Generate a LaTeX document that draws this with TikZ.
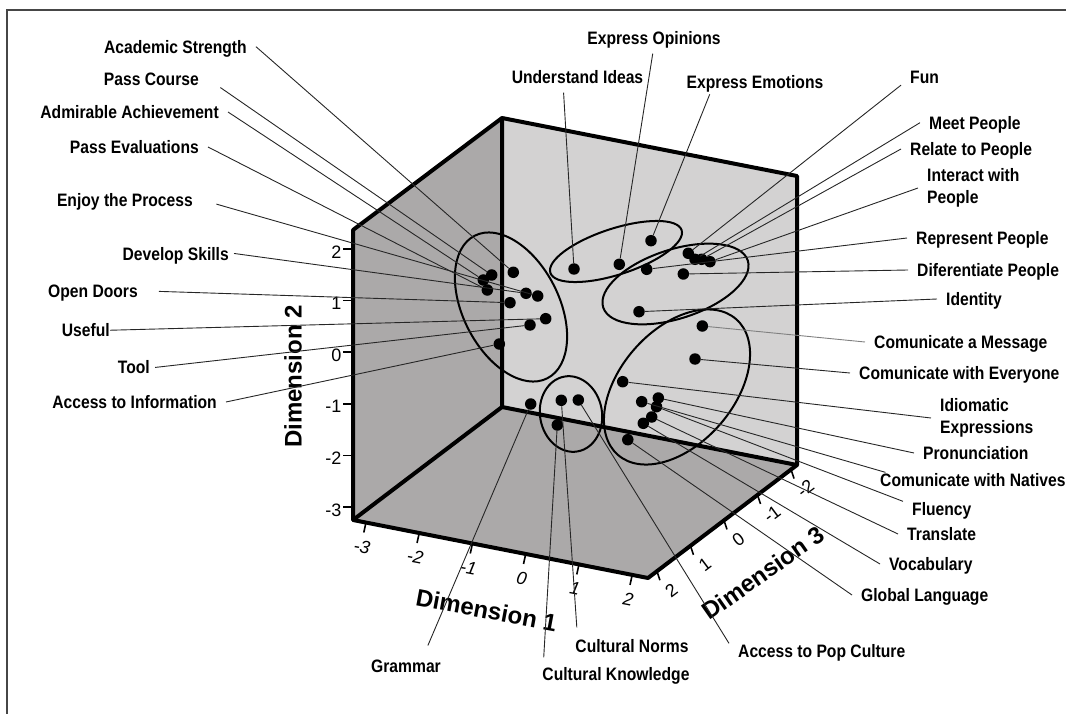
\documentclass[tikz,border=0pt]{standalone}
\usepackage{fontspec}
\setmainfont{Liberation Sans}
\newfontfamily\lblfont{Liberation Sans}[FakeStretch=0.87]
\usetikzlibrary{calc}
\definecolor{sidegray}{RGB}{171,169,169}
\definecolor{backgray}{RGB}{211,210,210}
\definecolor{framegray}{RGB}{70,70,70}

\begin{document}
\begin{tikzpicture}[x=1pt, y=-1pt,
  tag/.style      = {font=\lblfont\bfseries\fontsize{18}{22}\selectfont,
                     inner xsep=9pt, inner ysep=1pt,
                     text height=12.9pt, text depth=0pt},
  tagtwo/.style   = {font=\lblfont\bfseries\fontsize{18}{22}\selectfont,
                     inner xsep=9pt, inner ysep=1pt, align=left},
  dotnode/.style  = {circle, fill=black, inner sep=0pt, minimum size=11.5pt},
  groupring/.style= {line width=2pt},
  leader/.style   = {line width=0.9pt, black!85},
  cubeline/.style = {line width=4pt, line join=bevel},
  tickmark/.style = {line width=1.6pt},
  tnum/.style     = {font=\fontsize{18}{18}\selectfont, inner sep=0pt},
  tnumit/.style   = {font=\itshape\fontsize{18}{18}\selectfont, inner sep=0pt},
  dimtag/.style   = {font=\bfseries\fontsize{24}{24}\selectfont, inner sep=0pt}
]
\useasboundingbox (0,0) rectangle (1066,714);

%% ─── Frame ──────────────────────────────────────────────────────
\draw[framegray, line width=1.5pt] (7,714) -- (7,10) -- (1066,10);

%% ─── Cube: walls and floor ──────────────────────────────────────
\coordinate (A) at (353,230);
\coordinate (B) at (502,118);
\coordinate (C) at (797,176);
\coordinate (D) at (797,465);
\coordinate (E) at (502,407);
\coordinate (F) at (353,520);
\coordinate (G) at (648,578);

\fill[sidegray] (F) -- (A) -- (B) -- (E) -- cycle;
\fill[sidegray] (F) -- (E) -- (D) -- (G) -- cycle;
\fill[backgray] (E) -- (B) -- (C) -- (D) -- cycle;
\draw[cubeline] (F) -- (A) -- (B) -- (C) -- (D) -- (G) -- cycle;
\draw[cubeline] (B) -- (E) -- (F);
\draw[cubeline] (E) -- (D);

%% ─── Axes: ticks and numbers ────────────────────────────────────
\foreach \v [count=\i from 0] in {-3,...,2} {
  \coordinate (xa\i) at ($(F)!0.044+0.1805*\i!(G)$);
  \draw[tickmark] (xa\i) -- ++(-2.2,10);
  \node[tnumit, rotate=-11] (xn\i) at ($(xa\i)+(-4,24)$) {\v};
}
\foreach \v [count=\i from 0] in {-3,...,2} {
  \coordinate (ya\i) at ($(F)!0.045+0.178*\i!(A)$);
  \draw[tickmark] (ya\i) -- ++(-10,0);
  \node[tnum, anchor=east] (yn\i) at ($(ya\i)+(-11.5,3)$) {\v};
}
\foreach \v [count=\i from 0] in {-2,...,2} {
  \coordinate (za\i) at ($(D)!0.04+0.225*\i!(G)$);
  \draw[tickmark] (za\i) -- ++(3,9);
  \node[tnum, rotate=37] (zn\i) at ($(za\i)+(14.5,19)$) {\v};
}

\node[dimtag, rotate=90]    (dim2) at (293,376.5) {Dimension 2};
\node[dimtag, rotate=-10.5] (dim1) at (486.5,610) {Dimension 1};
\node[dimtag, rotate=35]    (dim3) at (763,573)   {Dimension 3};

%% ─── Group rings ────────────────────────────────────────────────
\draw[groupring] (511,307)   circle [x radius=80, y radius=48,   rotate=-63];
\draw[groupring] (616,251.5) circle [x radius=69, y radius=23,   rotate=18];
\draw[groupring] (675.5,284) circle [x radius=76, y radius=34.5, rotate=18];
\draw[groupring] (677,387)   circle [x radius=90, y radius=57,   rotate=49];
\draw[groupring] (571,414)   circle [x radius=38, y radius=31,   rotate=-80];

%% ─── Points ─────────────────────────────────────────────────────
% left ring
\node[dotnode] (d1)  at (483.3,280) {};
\node[dotnode] (d2)  at (491.7,275) {};
\node[dotnode] (d3)  at (487.3,290) {};
\node[dotnode] (d4)  at (513.3,272.3) {};
\node[dotnode] (d5)  at (526,293.3) {};
\node[dotnode] (d6)  at (537.7,296) {};
\node[dotnode] (d7)  at (510,302.7) {};
\node[dotnode] (d8)  at (545.7,318.7) {};
\node[dotnode] (d9)  at (530,325) {};
\node[dotnode] (d10) at (499.3,344) {};
% top ring
\node[dotnode] (u1) at (574,269) {};
\node[dotnode] (u2) at (619.3,264.3) {};
\node[dotnode] (u3) at (651,240.7) {};
% people ring
\node[dotnode] (p1) at (688.3,253.3) {};
\node[dotnode] (p2) at (695,259.3) {};
\node[dotnode] (p3) at (701.7,259.3) {};
\node[dotnode] (p4) at (710,261.7) {};
\node[dotnode] (p5) at (646.7,269.3) {};
\node[dotnode] (p6) at (683.3,274) {};
\node[dotnode] (p7) at (639,311.7) {};
% communication ring
\node[dotnode] (c1) at (702.3,326) {};
\node[dotnode] (c2) at (695,359) {};
\node[dotnode] (c3) at (622.7,381.7) {};
\node[dotnode] (c4) at (641.7,401.7) {};
\node[dotnode] (c5) at (658.3,398) {};
\node[dotnode] (c6) at (656.5,406.7) {};
\node[dotnode] (c7) at (651.7,417) {};
\node[dotnode] (c8) at (643.3,423.3) {};
\node[dotnode] (c9) at (627.8,439.7) {};
% culture ring
\node[dotnode] (k1) at (561.3,400.3) {};
\node[dotnode] (k2) at (578.3,400) {};
\node[dotnode] (k3) at (557.3,425) {};
\node[dotnode] (gr) at (530.7,404) {};

%% ─── Labels: left column ────────────────────────────────────────
\node[tag, anchor=east] (acad)   at (256,46.7) {Academic Strength};
\node[tag, anchor=east] (passc)  at (208,79)   {Pass Course};
\node[tag, anchor=east] (admir)  at (228,112)  {Admirable Achievement};
\node[tag, anchor=east] (passev) at (208,147)  {Pass Evaluations};
\node[tag, anchor=east] (enjoy)  at (202,200)  {Enjoy the Process};
\node[tag, anchor=east] (devel)  at (238,254)  {Develop Skills};
\node[tag, anchor=east] (doors)  at (147,291)  {Open Doors};
\node[tag, anchor=east] (useful) at (119,330)  {Useful};
\node[tag, anchor=east] (tool)   at (159,367)  {Tool};
\node[tag, anchor=east] (access) at (226,402)  {Access to Information};

%% ─── Labels: top ────────────────────────────────────────────────
\node[tag] (opin)  at (654,38)   {Express Opinions};
\node[tag] (under) at (577.5,77) {Understand Ideas};
\node[tag] (emot)  at (755,82)   {Express Emotions};

%% ─── Labels: right column ───────────────────────────────────────
\node[tag, anchor=west]    (fun)      at (901,77.5)  {Fun};
\node[tag, anchor=west]    (meet)     at (920,122.7) {Meet People};
\node[tag, anchor=west]    (relate)   at (901,149)   {Relate to People};
\node[tagtwo, anchor=west] (interact) at (918,188)   {Interact with\\People};
\node[tag, anchor=west]    (repr)     at (907,238)   {Represent People};
\node[tag, anchor=west]    (difer)    at (908,270)   {Diferentiate People};
\node[tag, anchor=west]    (ident)    at (937,299)   {Identity};
\node[tag, anchor=west]    (msg)      at (865,342)   {Comunicate a Message};
\node[tag, anchor=west]    (every)    at (850,373)   {Comunicate with Everyone};
\node[tagtwo, anchor=west] (idiom)    at (931,418)   {Idiomatic\\Expressions};
\node[tag, anchor=west]    (pron)     at (914,453)   {Pronunciation};
\node[tag, anchor=west]    (natives)  at (871,480)   {Comunicate with Natives};
\node[tag, anchor=west]    (fluency)  at (903,509)   {Fluency};
\node[tag, anchor=west]    (transl)   at (898,534)   {Translate};
\node[tag, anchor=west]    (vocab)    at (880,564)   {Vocabulary};
\node[tag, anchor=west]    (global)   at (852,595)   {Global Language};
\node[tag, anchor=west]    (popc)     at (729,651)   {Access to Pop Culture};

%% ─── Labels: bottom ─────────────────────────────────────────────
\node[tag] (gram)  at (406,666) {Grammar};
\node[tag] (norms) at (632,646) {Cultural Norms};
\node[tag] (know)  at (616,674) {Cultural Knowledge};

%% ─── Leaders ────────────────────────────────────────────────────
\draw[leader]                  (acad.east)   -- (d4);
\draw[leader, shorten <=15pt]  (passc.east)  -- (d2);
\draw[leader]                  (admir.east)  -- (d1);
\draw[leader]                  (passev.east) -- (d3);
\draw[leader, shorten <=15pt]  (enjoy.east)  -- (d6);
\draw[leader, shorten <=-4pt]  (devel.east)  -- (d5);
\draw[leader, shorten <=12pt]  (doors.east)  -- (d7);
\draw[leader, shorten <=-9pt]  (useful.east) -- (d8);
\draw[leader, shorten <=-4pt]  (tool.east)   -- (d9);
\draw[leader]                  (access.east) -- (d10);

\draw[leader, shorten <=8pt] (opin.south) -- (u2);
\draw[leader, shorten <=8pt] (under.208)  -- (u1);
\draw[leader, shorten <=5pt] (emot.190)   -- (u3);

\draw[leader] (fun.south west) -- (p1);
\draw[leader] (meet.west)      -- (p2);
\draw[leader] (relate.west)    -- (p3);
\draw[leader] (interact.west)  -- (p4);
\draw[leader] (repr.west)      -- (p5);
\draw[leader] (difer.west)     -- (p6);
\draw[leader] (ident.west)     -- (p7);
\draw[leader, gray] (msg.west) -- (c1);
\draw[leader] (every.west)     -- (c2);
\draw[leader] (idiom.west)     -- (c3);
\draw[leader] (pron.west)      -- (c5);
\draw[leader] (natives.175)    -- (c4);
\draw[leader] (fluency.north west) -- (c6);
\draw[leader] (transl.west)    -- (c7);
\draw[leader] (vocab.west)     -- (c8);
\draw[leader] (global.west)    -- (c9);
\draw[leader] (popc.north west) -- (k2);

\draw[leader, shorten <=14pt] (gram.25)   -- (gr);
\draw[leader, shorten <=11pt] (norms.172) -- (k1);
\draw[leader, shorten <=9pt]  (know.174)  -- (k3);

\end{tikzpicture}
\end{document}
